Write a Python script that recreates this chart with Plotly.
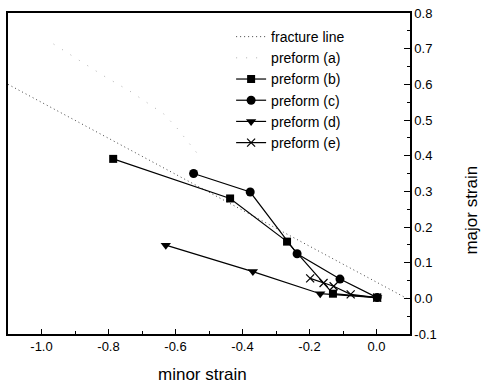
import plotly.graph_objects as go

# ---- data ----
fracture_x = [-1.10, 0.09]
fracture_y = [0.60, 0.00]

a_x = [-0.964, -0.887, -0.813, -0.733, -0.671, -0.635, -0.596, -0.561, -0.522]
a_y = [0.713, 0.668, 0.623, 0.579, 0.539, 0.517, 0.478, 0.436, 0.391]

b_x = [-0.786, -0.437, -0.267, -0.130, 0.002]
b_y = [0.391, 0.280, 0.159, 0.013, 0.002]

c_x = [-0.546, -0.377, -0.237, -0.109, 0.002]
c_y = [0.350, 0.298, 0.125, 0.054, 0.002]

d_x = [-0.629, -0.369, -0.168, 0.002]
d_y = [0.149, 0.075, 0.013, 0.002]

e_x = [-0.198, -0.158, -0.128, -0.077, 0.002]
e_y = [0.056, 0.043, 0.034, 0.011, 0.002]

x_ticks = [-1.0, -0.8, -0.6, -0.4, -0.2, 0.0]
x_ticktext = ["-1.0", "-0.8", "-0.6", "-0.4", "-0.2", "0.0"]
y_ticks = [-0.1, 0.0, 0.1, 0.2, 0.3, 0.4, 0.5, 0.6, 0.7, 0.8]
y_ticktext = ["-0.1", "0.0", "0.1", "0.2", "0.3", "0.4", "0.5", "0.6", "0.7", "0.8"]

FONT = "Liberation Sans, Arial, sans-serif"
LINE = dict(color="black", width=1.2)

fig = go.Figure()
fig.add_trace(go.Scatter(x=fracture_x, y=fracture_y, mode="lines", name="fracture line",
                         line=dict(color="#444444", width=1, dash="1px,3px")))
fig.add_trace(go.Scatter(x=a_x, y=a_y, mode="lines", name="preform (a)",
                         line=dict(color="#b0b0b0", width=1, dash="1px,9px")))
fig.add_trace(go.Scatter(x=b_x, y=b_y, mode="lines+markers", name="preform (b)",
                         line=LINE, marker=dict(symbol="square", size=8, color="black")))
fig.add_trace(go.Scatter(x=c_x, y=c_y, mode="lines+markers", name="preform (c)",
                         line=LINE, marker=dict(symbol="circle", size=9, color="black")))
fig.add_trace(go.Scatter(x=d_x, y=d_y, mode="lines+markers", name="preform (d)",
                         line=LINE, marker=dict(symbol="triangle-down", size=9, color="black")))
fig.add_trace(go.Scatter(x=e_x, y=e_y, mode="lines+markers", name="preform (e)",
                         line=LINE, marker=dict(symbol="x-thin", size=8, color="black",
                                                line=dict(color="black", width=1.2))))

fig.update_layout(
    width=483, height=387,
    margin=dict(l=6, r=73, t=10, b=53),
    paper_bgcolor="white", plot_bgcolor="white",
    font=dict(family=FONT, size=13, color="black"),
    showlegend=True,
    legend=dict(x=0.555, y=0.975, xanchor="left", yanchor="top",
                bgcolor="rgba(0,0,0,0)", font=dict(size=14, family=FONT),
                tracegroupgap=0, itemwidth=30),
    xaxis=dict(range=[-1.1, 0.1], tickvals=x_ticks, ticktext=x_ticktext,
               ticks="inside", ticklen=5, tickwidth=1.2, tickcolor="black",
               minor=dict(dtick=0.1, tick0=0, ticks="inside", ticklen=3, tickcolor="black"),
               showline=True, linecolor="black", linewidth=1.5, mirror=True,
               showgrid=False, zeroline=False, tickfont=dict(size=13)),
    yaxis=dict(range=[-0.1, 0.8], side="right", tickvals=y_ticks, ticktext=y_ticktext,
               ticks="inside", ticklen=6, tickwidth=1.2, tickcolor="black",
               minor=dict(dtick=0.05, tick0=0, ticks="inside", ticklen=3, tickcolor="black"),
               showline=True, linecolor="black", linewidth=1.5, mirror=True,
               showgrid=False, zeroline=False, tickfont=dict(size=13)),
    annotations=[
        dict(text="minor strain", xref="paper", yref="paper", x=0.485, y=-0.127,
             xanchor="center", yanchor="middle", showarrow=False,
             font=dict(size=17, family=FONT)),
        dict(text="major strain", xref="paper", yref="paper", x=1.153, y=0.386,
             xanchor="center", yanchor="middle", showarrow=False, textangle=-90,
             font=dict(size=17, family=FONT)),
    ],
)

fig.write_html("out.html")
